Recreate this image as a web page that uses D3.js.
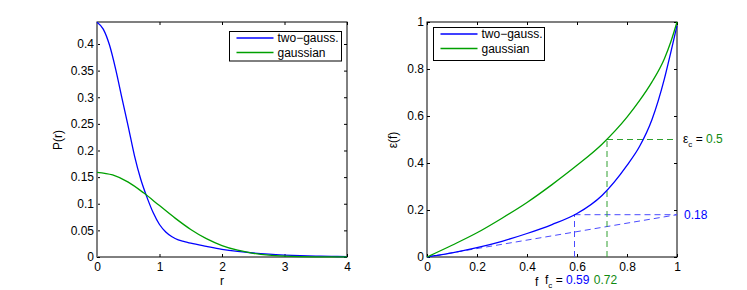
<!DOCTYPE html>
<html>
<head>
<meta charset="utf-8">
<script src="https://cdn.jsdelivr.net/npm/d3@7"></script>
<style>
  body { margin: 0; background: #fff; }
  text { font-family: "Liberation Sans", Arial, sans-serif; font-size: 12px; fill: #000; }
</style>
</head>
<body>
<div id="chart"></div>
<script>
// series names and colours
var seriesNames = ["two\u2212gauss.", "gaussian"];
var seriesColors = ["#0000ff", "#00a000"];

// left panel: P(r)
var rBlue = [0, 0.1, 0.2, 0.3, 0.4, 0.5, 0.6, 0.7, 0.8, 0.9, 1.0, 1.1, 1.2, 1.3, 1.4, 1.5, 1.75, 2.0, 2.25, 2.5, 2.75, 3.0, 3.25, 3.5, 3.75, 4.0];
var pBlue = [0.441, 0.428, 0.398, 0.352, 0.298, 0.245, 0.19, 0.146, 0.112, 0.083, 0.061, 0.047, 0.038, 0.032, 0.029, 0.026, 0.02, 0.0145, 0.0105, 0.0075, 0.0053, 0.0037, 0.0025, 0.0017, 0.0011, 0.0007];
var rGreen = [0, 0.25, 0.5, 0.75, 1.0, 1.25, 1.5, 1.75, 2.0, 2.25, 2.5, 2.75, 3.0, 3.25, 3.5, 3.75, 4.0];
var pGreen = [0.159, 0.154, 0.1405, 0.12, 0.0965, 0.073, 0.0517, 0.0344, 0.0215, 0.0127, 0.007, 0.0036, 0.0018, 0.0008, 0.0003, 0.0001, 0.0001];
var rTicks = [0, 1, 2, 3, 4];
var pTicks = [0, 0.05, 0.1, 0.15, 0.2, 0.25, 0.3, 0.35, 0.4];

// right panel: eps(f)
var fVals = [0, 0.1, 0.2, 0.3, 0.4, 0.5, 0.6, 0.7, 0.8, 0.85, 0.9, 0.95, 0.975, 1.0];
var epsBlue = [0, 0.018, 0.04, 0.067, 0.1, 0.138, 0.185, 0.262, 0.39, 0.47, 0.585, 0.76, 0.87, 0.985];
var epsGreen = [0, 0.05, 0.103, 0.165, 0.232, 0.308, 0.39, 0.48, 0.595, 0.665, 0.745, 0.845, 0.915, 1.0];
var fTicks = [0, 0.2, 0.4, 0.6, 0.8, 1];
var epsTicks = [0, 0.2, 0.4, 0.6, 0.8, 1];

// critical values (blue, green)
var fc = [0.59, 0.72];
var epsC = [0.18, 0.5];

var svg = d3.select("#chart").append("svg")
  .attr("width", 747).attr("height", 290);
svg.append("rect").attr("width", 747).attr("height", 290).attr("fill", "#fff");

var top_ = 22, bottom = 257;
var fmt = function (d) { return String(+d.toFixed(2)); };

function drawFrame(x, y, xt, yt) {
  var g = svg.append("g");
  g.append("g").attr("transform", "translate(0," + bottom + ")")
    .call(d3.axisBottom(x).tickValues(xt).tickSize(-3).tickSizeOuter(0).tickPadding(5).tickFormat(fmt));
  g.append("g").attr("transform", "translate(0," + top_ + ")")
    .call(d3.axisTop(x).tickValues(xt).tickSize(-3).tickSizeOuter(0).tickFormat(""));
  g.append("g").attr("transform", "translate(" + x.range()[0] + ",0)")
    .call(d3.axisLeft(y).tickValues(yt).tickSize(-3).tickSizeOuter(0).tickPadding(3).tickFormat(fmt));
  g.append("g").attr("transform", "translate(" + x.range()[1] + ",0)")
    .call(d3.axisRight(y).tickValues(yt).tickSize(-3).tickSizeOuter(0).tickFormat(""));
  g.selectAll(".domain").remove();
  g.selectAll(".tick line").attr("stroke", "#000");
  g.selectAll(".tick text").style("font-size", "12px");
  g.append("rect")
    .attr("x", x.range()[0]).attr("y", top_)
    .attr("width", x.range()[1] - x.range()[0]).attr("height", bottom - top_)
    .attr("fill", "none").attr("stroke", "#000");
  return g;
}

function drawLegend(x0, y0, w, h) {
  var lg = svg.append("g").attr("transform", "translate(" + x0 + "," + y0 + ")");
  lg.append("rect").attr("width", w).attr("height", h)
    .attr("fill", "#fff").attr("stroke", "#000");
  seriesNames.forEach(function (n, i) {
    var yy = 6.5 + i * 14.5;
    lg.append("line").attr("x1", 7).attr("x2", 44).attr("y1", yy).attr("y2", yy)
      .attr("stroke", seriesColors[i]).attr("stroke-width", 1.3);
    lg.append("text").attr("x", 48).attr("y", yy).attr("dy", "0.35em").text(n);
  });
}

// left panel
var xL = d3.scaleLinear().domain([0, 4]).range([97, 347]);
var yL = d3.scaleLinear().domain([0, 0.4413]).range([bottom, top_]);
var lineL = d3.line().x(function (d) { return xL(d[0]); }).y(function (d) { return yL(d[1]); })
  .curve(d3.curveMonotoneX);

drawFrame(xL, yL, rTicks, pTicks);
// the left spine looks grey and thicker in the original
svg.append("line").attr("x1", xL(0)).attr("x2", xL(0)).attr("y1", top_).attr("y2", bottom)
  .attr("stroke", "#808080").attr("stroke-width", 2);
svg.append("path").datum(d3.zip(rBlue, pBlue)).attr("d", lineL)
  .attr("fill", "none").attr("stroke", seriesColors[0]).attr("stroke-width", 1.3);
svg.append("path").datum(d3.zip(rGreen, pGreen)).attr("d", lineL)
  .attr("fill", "none").attr("stroke", seriesColors[1]).attr("stroke-width", 1.3);
drawLegend(229.5, 31.5, 112, 29.5);

svg.append("text").attr("x", 222).attr("y", 285).attr("text-anchor", "middle").text("r");
svg.append("text").attr("transform", "translate(62,140) rotate(-90)")
  .attr("text-anchor", "middle").text("P(r)");

// right panel
var xR = d3.scaleLinear().domain([0, 1]).range([427, 677]);
var yR = d3.scaleLinear().domain([0, 1]).range([bottom, top_]);
var lineR = d3.line().x(function (d) { return xR(d[0]); }).y(function (d) { return yR(d[1]); })
  .curve(d3.curveMonotoneX);

drawFrame(xR, yR, fTicks, epsTicks);

// dashed guides
var dashColors = ["#4a4aff", "#30a030"];
var guides = [
  [[0, 0], [1, epsC[0]]],
  [[fc[0], 0], [fc[0], epsC[0]]],
  [[fc[0], epsC[0]], [1, epsC[0]]],
  [[fc[1], 0], [fc[1], epsC[1]]],
  [[fc[1], epsC[1]], [1, epsC[1]]]
];
guides.forEach(function (gd, i) {
  svg.append("path").datum(gd).attr("d", d3.line().x(function (d) { return xR(d[0]); }).y(function (d) { return yR(d[1]); }))
    .attr("fill", "none").attr("stroke", dashColors[i < 3 ? 0 : 1])
    .attr("stroke-width", 1).attr("stroke-dasharray", "6,4");
});

svg.append("path").datum(d3.zip(fVals, epsBlue)).attr("d", lineR)
  .attr("fill", "none").attr("stroke", seriesColors[0]).attr("stroke-width", 1.3);
svg.append("path").datum(d3.zip(fVals, epsGreen)).attr("d", lineR)
  .attr("fill", "none").attr("stroke", seriesColors[1]).attr("stroke-width", 1.3);
drawLegend(433.5, 27.5, 111, 33);

svg.append("text").attr("transform", "translate(397,140) rotate(-90)")
  .attr("text-anchor", "middle").text("\u03b5(f)");

// f axis label and critical fractions
svg.append("text").attr("x", 535).attr("y", 286).text("f");
var tf = svg.append("text").attr("x", 545).attr("y", 284);
tf.append("tspan").text("f");
tf.append("tspan").attr("dy", 3.5).style("font-size", "8px").text("c");
tf.append("tspan").attr("dy", -3.5).text(" = ");
tf.append("tspan").style("fill", "#0000ff").text(fc[0]);
tf.append("tspan").attr("dx", 1).style("fill", "#108a10").text(" " + fc[1]);

// eps annotations
var te = svg.append("text").attr("x", 683).attr("y", yR(epsC[1]) + 3);
te.append("tspan").text("\u03b5");
te.append("tspan").attr("dy", 4).style("font-size", "8px").text("c");
te.append("tspan").attr("dy", -4).text(" = ");
te.append("tspan").style("fill", "#108a10").text(epsC[1]);
svg.append("text").attr("x", 684).attr("y", yR(epsC[0]) + 4)
  .style("fill", "#0000ff").text(epsC[0]);
</script>
</body>
</html>
